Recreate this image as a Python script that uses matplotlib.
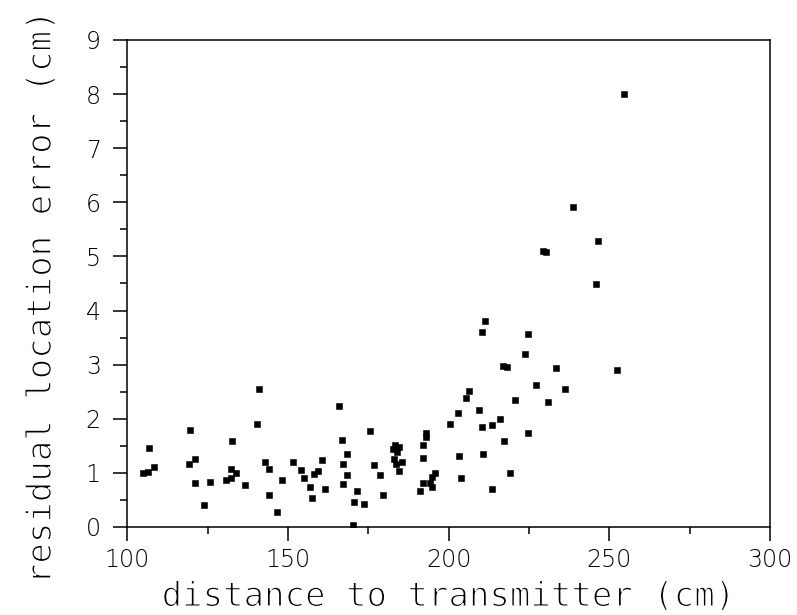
import matplotlib
matplotlib.use("Agg")
import matplotlib.pyplot as plt
import matplotlib.patheffects as pe
from matplotlib.ticker import MultipleLocator

# distance to transmitter (cm) and residual error (cm)
dist = [104.8, 106.4, 106.8, 108.4, 119.3, 119.5, 121.1, 121.2, 123.9, 125.6,
        130.6, 132.2, 132.4, 132.6, 133.8, 136.6, 140.3, 141.1, 142.9, 144.1,
        144.2, 146.5, 148.0, 151.5, 154.0, 155.0, 156.9, 157.5, 158.2, 159.3,
        160.6, 161.6, 165.8, 166.8, 167.0, 167.1, 168.3, 168.4, 170.2, 170.5,
        171.5, 173.7, 175.4, 176.7, 178.5, 179.7, 182.6, 183.1, 183.3, 183.6,
        184.0, 184.5, 184.5, 185.4, 191.2, 191.9, 192.0, 192.1, 193.0, 193.0,
        194.2, 194.7, 194.9, 195.8, 200.4, 202.8, 203.1, 203.8, 205.5, 206.4,
        209.4, 210.4, 210.4, 210.7, 211.3, 213.4, 213.4, 216.0, 217.0, 217.1,
        218.1, 219.1, 220.7, 223.8, 224.6, 224.7, 227.1, 229.3, 230.2, 230.9,
        233.4, 236.3, 238.7, 245.8, 246.6, 252.4, 254.6]
err = [1.00, 1.01, 1.46, 1.10, 1.16, 1.79, 0.82, 1.26, 0.41, 0.83,
       0.86, 0.91, 1.07, 1.58, 0.99, 0.78, 1.90, 2.55, 1.20, 0.59,
       1.08, 0.27, 0.87, 1.20, 1.05, 0.90, 0.73, 0.54, 0.98, 1.03,
       1.23, 0.70, 2.23, 1.60, 1.16, 0.79, 0.96, 1.35, 0.03, 0.47,
       0.66, 0.42, 1.77, 1.15, 0.97, 0.60, 1.44, 1.25, 1.52, 1.16,
       1.39, 1.48, 1.03, 1.20, 0.67, 1.28, 1.52, 0.81, 1.66, 1.73,
       0.82, 0.93, 0.74, 1.00, 1.91, 2.11, 1.31, 0.91, 2.38, 2.51,
       2.16, 3.60, 1.84, 1.35, 3.81, 1.88, 0.70, 1.99, 2.98, 1.59,
       2.96, 0.99, 2.35, 3.20, 3.57, 1.74, 2.62, 5.10, 5.08, 2.31,
       2.94, 2.55, 5.91, 4.49, 5.29, 2.91, 8.01]

plt.rcParams['font.family'] = ['DejaVu Sans']

fig = plt.figure(figsize=(7.97, 6.15), dpi=100)
ax = fig.add_axes([0.1597, 0.1431, 0.8064, 0.7919])
ax.plot(dist, err, "ks", markersize=4.4, markeredgewidth=0.4, linestyle="none")

ax.set_xlim(100, 300)
ax.set_ylim(0, 9)
ax.xaxis.set_major_locator(MultipleLocator(50))
ax.xaxis.set_minor_locator(MultipleLocator(25))
ax.yaxis.set_major_locator(MultipleLocator(1))
ax.yaxis.set_minor_locator(MultipleLocator(0.5))
ax.tick_params(which="both", direction="out", width=1.1, top=False, right=False)
ax.tick_params(which="major", length=10, labelsize=17)
ax.tick_params(which="minor", length=5)
ax.tick_params(axis="y", pad=9)
ax.tick_params(axis="x", pad=5)
for sp in ax.spines.values():
    sp.set_linewidth(1.1)
for lab in ax.get_xticklabels() + ax.get_yticklabels():
    lab.set_fontweight("light")

# wide, thin lettering of the original: monospace for the spacing,
# a white outline stroke to thin the glyphs down
thin = [pe.Stroke(linewidth=1.0, foreground="white")]
ax.set_xlabel("distance to transmitter (cm)", fontsize=24.5, family="DejaVu Sans Mono",
              labelpad=6, path_effects=thin)
ax.set_ylabel("residual location error (cm)", fontsize=24.5, family="DejaVu Sans Mono",
              path_effects=thin)
ax.yaxis.set_label_coords(-0.108, 0.472)

fig.savefig("out.png", dpi=100)
